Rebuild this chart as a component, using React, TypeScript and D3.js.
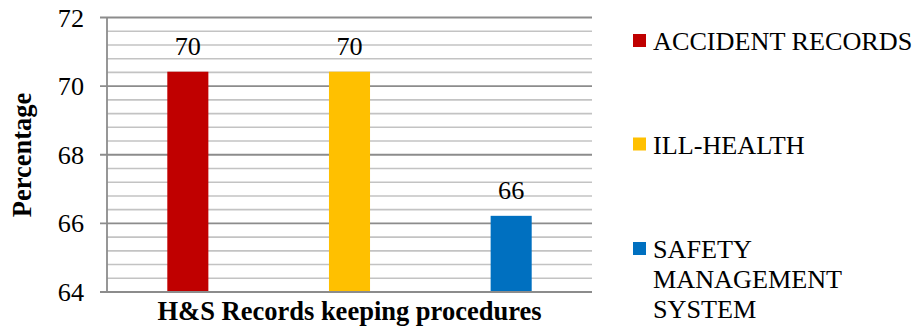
import React from "react";
import * as d3 from "d3";

// Series shown as separate bars within the single category
const seriesNames = ["ACCIDENT RECORDS", "ILL-HEALTH", "SAFETY MANAGEMENT SYSTEM"];
const seriesValues = [70.42, 70.42, 66.22];
const seriesColors = ["#C00000", "#FFC000", "#0070C0"];
const legendLines = [["ACCIDENT RECORDS"], ["ILL-HEALTH"], ["SAFETY", "MANAGEMENT", "SYSTEM"]];
const yTicks = [64, 66, 68, 70, 72];
const categoryTitle = "H&S Records keeping procedures";
const yTitle = "Percentage";

const W = 917;
const H = 327;
const FS = 26.2;
const FS_BOLD = 26.5;
const SERIF = "Liberation Serif";

export default function App() {
  const plot = { left: 107, right: 592, top: 17.5, bottom: 292 };

  const y = d3.scaleLinear().domain([64, 72]).range([plot.bottom, plot.top]);
  const x = d3
    .scaleBand<string>()
    .domain(seriesNames)
    .range([plot.left, plot.right])
    .paddingInner(0.746)
    .paddingOuter(0.373);

  const minorTicks = d3.range(64, 72.0001, 0.4).filter(
    (v) => !yTicks.some((t) => Math.abs(t - v) < 1e-6)
  );
  const fmt = d3.format(".0f");

  const legendX = 633;
  const legendRows = [50, 153.5, 258];

  return (
    <div style={{ position: "fixed", left: 0, top: 0, fontFamily: SERIF }}>
      <svg width={W} height={H} style={{ display: "block", fontFamily: SERIF }}>
        <rect x={0} y={0} width={W} height={H} fill="#fff" />
        {/* minor gridlines */}
        {minorTicks.map((v, i) => (
          <line
            key={"m" + i}
            x1={plot.left}
            x2={plot.right}
            y1={y(v)}
            y2={y(v)}
            stroke="#c3c3c3"
            strokeWidth={1.6}
          />
        ))}
        {/* major gridlines, ticks and tick labels */}
        {yTicks.map((t) => (
          <g key={"t" + t}>
            <line
              x1={plot.left - 7}
              x2={plot.right}
              y1={y(t)}
              y2={y(t)}
              stroke="#8c8c8c"
              strokeWidth={1.8}
            />
            <text
              x={84}
              y={y(t) + 9}
              textAnchor="end"
              style={{ fontFamily: SERIF, fontSize: FS, fill: "#000" }}
            >
              {String(t)}
            </text>
          </g>
        ))}
        {/* value axis line */}
        <line
          x1={plot.left}
          x2={plot.left}
          y1={plot.top}
          y2={plot.bottom}
          stroke="#8c8c8c"
          strokeWidth={1.8}
        />
        {/* bars with value labels */}
        {seriesNames.map((name, i) => (
          <g key={name}>
            <rect
              x={x(name)}
              y={y(seriesValues[i])}
              width={x.bandwidth()}
              height={plot.bottom - y(seriesValues[i])}
              fill={seriesColors[i]}
            />
            <text
              x={(x(name) as number) + x.bandwidth() / 2}
              y={y(seriesValues[i]) - 17}
              textAnchor="middle"
              style={{ fontFamily: SERIF, fontSize: FS, fill: "#000" }}
            >
              {fmt(seriesValues[i])}
            </text>
          </g>
        ))}
        {/* baseline drawn over bars */}
        <line
          x1={plot.left}
          x2={plot.right}
          y1={plot.bottom}
          y2={plot.bottom}
          stroke="#8c8c8c"
          strokeWidth={1.8}
        />
        {/* axis titles */}
        <text
          x={(plot.left + plot.right) / 2}
          y={320}
          textAnchor="middle"
          style={{ fontFamily: SERIF, fontSize: FS_BOLD, fontWeight: "bold", fill: "#000" }}
        >
          {categoryTitle}
        </text>
        <text
          transform="translate(31,155) rotate(-90)"
          textAnchor="middle"
          style={{ fontFamily: SERIF, fontSize: FS_BOLD, fontWeight: "bold", fill: "#000" }}
        >
          {yTitle}
        </text>
        {/* legend */}
        {legendLines.map((lines, i) => (
          <g key={"l" + i}>
            <rect
              x={legendX}
              y={legendRows[i] - 16}
              width={13}
              height={13}
              fill={seriesColors[i]}
            />
            {lines.map((ln, j) => (
              <text
                key={j}
                x={legendX + 20}
                y={legendRows[i] + j * 30}
                style={{ fontFamily: SERIF, fontSize: FS, fill: "#000" }}
              >
                {ln}
              </text>
            ))}
          </g>
        ))}
      </svg>
    </div>
  );
}
